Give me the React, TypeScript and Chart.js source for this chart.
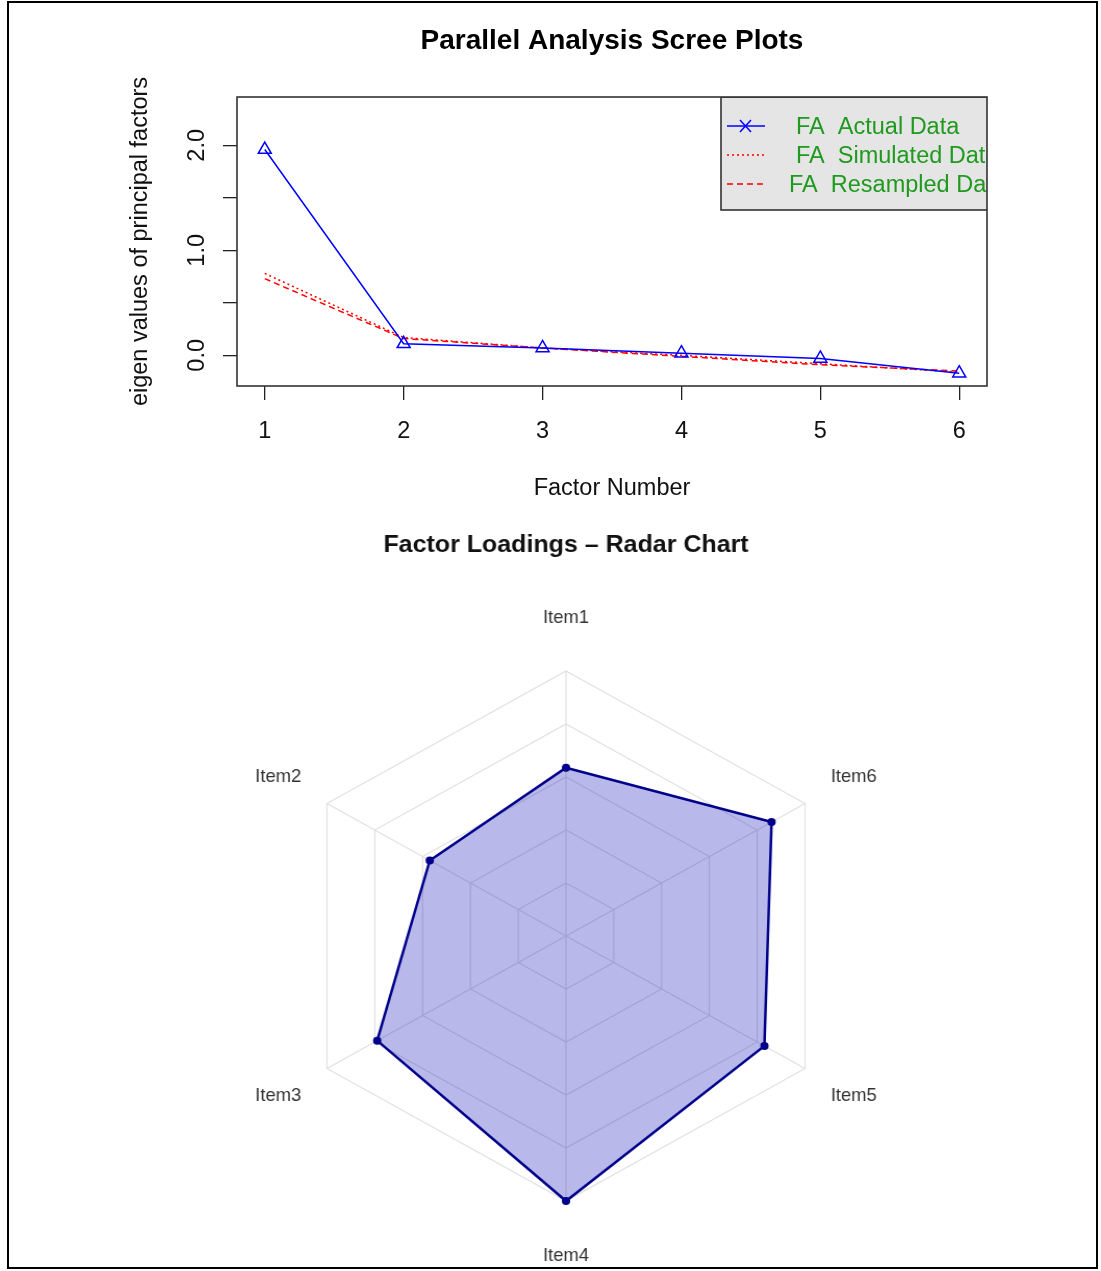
import React, { useEffect, useRef } from 'react';
import { Chart, registerables } from 'chart.js';

Chart.register(...registerables);

const FONT = '"Liberation Sans", Arial, Helvetica, sans-serif';

// ---------- Scree plot data ----------
const factorNumbers = [1, 2, 3, 4, 5, 6];
const actualData = [1.96, 0.11, 0.07, 0.02, -0.03, -0.17];
const simulatedData = [0.78, 0.17, 0.07, 0.0, -0.08, -0.16];
const resampledData = [0.73, 0.16, 0.07, -0.01, -0.09, -0.15];
const xTickValues = [1, 2, 3, 4, 5, 6];
const xTickLabels = ['1', '2', '3', '4', '5', '6'];
const yTickValues = [0, 0.5, 1, 1.5, 2];
const yTickLabels = ['0.0', '', '1.0', '', '2.0'];
const screeTitle = 'Parallel Analysis Scree Plots';
const xAxisTitle = 'Factor Number';
const yAxisTitle = 'eigen values of principal factors';
const legendLabels = ['FA  Actual Data', 'FA  Simulated Data', 'FA  Resampled Data'];

// ---------- Radar data ----------
const radarTitle = 'Factor Loadings \u2013 Radar Chart';
const radarItems = ['Item1', 'Item2', 'Item3', 'Item4', 'Item5', 'Item6'];
const radarLoadings = [0.635, 0.57, 0.79, 1.0, 0.83, 0.86];
const radarRings = [0, 0.2, 0.4, 0.6, 0.8, 1.0];
// items run counter-clockwise in the picture; Chart.js goes clockwise
const radarOrder = [0, 5, 4, 3, 2, 1];

const screeDecorPlugin = {
  id: 'screeDecor',
  afterDatasetsDraw(chart: any) {
    const { ctx, chartArea: a } = chart;
    ctx.save();
    ctx.beginPath();
    ctx.rect(a.left, a.top, a.right - a.left, a.bottom - a.top);
    ctx.clip();
    const lx = a.right - 266;
    const ly = a.top;
    ctx.fillStyle = '#e5e5e5';
    ctx.fillRect(lx, ly, 330, 113);
    ctx.strokeStyle = '#333';
    ctx.lineWidth = 1.6;
    ctx.strokeRect(lx, ly, 330, 113);
    const styles = [
      { color: '#0000ff', dash: [] as number[] },
      { color: '#ff0000', dash: [2, 3] },
      { color: '#ff0000', dash: [6, 4] },
    ];
    const textOffsets = [75, 75, 68];
    ctx.font = `23.5px ${FONT}`;
    ctx.textBaseline = 'middle';
    ctx.textAlign = 'left';
    legendLabels.forEach((label, i) => {
      const y = ly + 29 * (i + 1);
      ctx.strokeStyle = styles[i].color;
      ctx.lineWidth = 1.5;
      ctx.setLineDash(styles[i].dash);
      ctx.beginPath();
      ctx.moveTo(lx + 6, y);
      ctx.lineTo(lx + 44, y);
      ctx.stroke();
      ctx.setLineDash([]);
      if (i === 0) {
        ctx.beginPath();
        ctx.moveTo(lx + 19, y - 6);
        ctx.lineTo(lx + 30, y + 6);
        ctx.moveTo(lx + 19, y + 6);
        ctx.lineTo(lx + 30, y - 6);
        ctx.stroke();
      }
      ctx.fillStyle = '#1f9a1f';
      ctx.fillText(label, lx + textOffsets[i], y + 2);
    });
    ctx.restore();

    ctx.save();
    ctx.strokeStyle = '#333';
    ctx.lineWidth = 1.6;
    ctx.strokeRect(a.left, a.top, a.right - a.left, a.bottom - a.top);
    ctx.fillStyle = '#000';
    ctx.font = `bold 28px ${FONT}`;
    ctx.textAlign = 'center';
    ctx.textBaseline = 'middle';
    ctx.fillText(screeTitle, (a.left + a.right) / 2, 41);
    ctx.restore();
  },
};

const radarLabelPlugin = {
  id: 'radarLabels',
  afterDraw(chart: any) {
    const scale = chart.scales.r;
    const { ctx } = chart;
    ctx.save();
    ctx.font = `17.7px ${FONT}`;
    ctx.fillStyle = '#333';
    ctx.textAlign = 'center';
    ctx.textBaseline = 'middle';
    (chart.data.labels as string[]).forEach((label, i) => {
      const p = scale.getPointPosition(i, scale.drawingArea + 54);
      ctx.fillText(label, p.x, p.y + 1);
    });
    ctx.restore();
  },
};

export default function App() {
  const screeRef = useRef<HTMLCanvasElement | null>(null);
  const radarRef = useRef<HTMLCanvasElement | null>(null);

  useEffect(() => {
    const tickFont = { size: 23.5, family: FONT };
    const scree = new Chart(screeRef.current as HTMLCanvasElement, {
      type: 'line',
      data: {
        datasets: [
          {
            label: 'FA Actual Data',
            data: factorNumbers.map((x, i) => ({ x, y: actualData[i] })),
            borderColor: '#0000ff',
            borderWidth: 1.5,
            pointStyle: 'triangle',
            pointRadius: 7.5,
            pointBorderColor: '#0000ff',
            pointBackgroundColor: 'rgba(0,0,0,0)',
            pointBorderWidth: 1.5,
            fill: false,
            tension: 0,
          },
          {
            label: 'FA Simulated Data',
            data: factorNumbers.map((x, i) => ({ x, y: simulatedData[i] })),
            borderColor: '#ff0000',
            borderWidth: 1.5,
            borderDash: [2, 3],
            pointRadius: 0,
            fill: false,
            tension: 0,
          },
          {
            label: 'FA Resampled Data',
            data: factorNumbers.map((x, i) => ({ x, y: resampledData[i] })),
            borderColor: '#ff0000',
            borderWidth: 1.5,
            borderDash: [6, 4],
            pointRadius: 0,
            fill: false,
            tension: 0,
          },
        ],
      },
      options: {
        responsive: false,
        maintainAspectRatio: false,
        animation: false,
        layout: { padding: { top: 97, right: 114, bottom: 0, left: 0 } },
        plugins: { legend: { display: false }, tooltip: { enabled: false } },
        scales: {
          x: {
            type: 'linear',
            min: 0.8,
            max: 6.2,
            afterBuildTicks: (s: any) => {
              s.ticks = xTickValues.map((v) => ({ value: v }));
            },
            afterFit: (s: any) => {
              s.height = 129;
            },
            border: { display: false },
            grid: { drawOnChartArea: false, drawTicks: true, tickLength: 14, color: '#222', lineWidth: 1.3 },
            ticks: {
              font: tickFont,
              color: '#111',
              padding: 17,
              autoSkip: false,
              maxRotation: 0,
              callback: (_v: any, i: number) => xTickLabels[i],
            },
            title: { display: true, text: xAxisTitle, font: tickFont, color: '#111', padding: { top: 0, bottom: 12 } },
          },
          y: {
            type: 'linear',
            min: -0.292,
            max: 2.46,
            afterBuildTicks: (s: any) => {
              s.ticks = yTickValues.map((v) => ({ value: v }));
            },
            afterFit: (s: any) => {
              s.width = 237;
            },
            border: { display: false },
            grid: { drawOnChartArea: false, drawTicks: true, tickLength: 14, color: '#222', lineWidth: 1.3 },
            ticks: {
              font: tickFont,
              color: '#111',
              padding: 9,
              autoSkip: false,
              minRotation: 90,
              maxRotation: 90,
              crossAlign: 'center',
              callback: (_v: any, i: number) => yTickLabels[i],
            },
            title: { display: true, text: yAxisTitle, font: tickFont, color: '#111', padding: { top: 126, bottom: 0 } },
          },
        },
      } as any,
      plugins: [screeDecorPlugin],
    });

    const radar = new Chart(radarRef.current as HTMLCanvasElement, {
      type: 'radar',
      data: {
        labels: radarOrder.map((i) => radarItems[i]),
        datasets: [
          {
            label: 'Loadings',
            data: radarOrder.map((i) => radarLoadings[i]),
            borderColor: '#00008b',
            borderWidth: 2.5,
            backgroundColor: 'rgba(0,0,180,0.28)',
            pointRadius: 4,
            pointBackgroundColor: '#00008b',
            pointBorderColor: '#00008b',
            pointBorderWidth: 0,
            fill: true,
          },
        ],
      },
      options: {
        responsive: false,
        maintainAspectRatio: false,
        animation: false,
        layout: { padding: { top: 0, right: 270, bottom: 67, left: 301 } },
        plugins: {
          legend: { display: false },
          tooltip: { enabled: false },
          title: {
            display: true,
            text: radarTitle,
            color: '#111',
            font: { size: 24, weight: 'bold', family: FONT, lineHeight: 1.2 },
            padding: { top: 15.6, bottom: 111.6 },
          },
        },
        scales: {
          r: {
            min: 0,
            max: 1,
            afterBuildTicks: (s: any) => {
              s.ticks = radarRings.map((v) => ({ value: v }));
            },
            ticks: { display: false },
            grid: { color: '#e0e0e0', lineWidth: 1.2 },
            angleLines: { color: '#e0e0e0', lineWidth: 1.2 },
            pointLabels: { display: false },
          },
        },
      } as any,
      plugins: [radarLabelPlugin],
    });

    return () => {
      scree.destroy();
      radar.destroy();
    };
  }, []);

  return (
    <div style={{ position: 'absolute', left: 0, top: 0, width: 1101, height: 1271, background: '#fff', overflow: 'hidden' }}>
      <canvas ref={screeRef} width={1101} height={515} style={{ position: 'absolute', left: 0, top: 0 }} />
      <div
        style={{
          position: 'absolute',
          left: 0,
          top: 515,
          width: 1101,
          height: 753,
          transform: 'scaleX(1.0415)',
          transformOrigin: '566px 0px',
        }}
      >
        <canvas ref={radarRef} width={1101} height={753} style={{ display: 'block' }} />
      </div>
      <div
        style={{
          position: 'absolute',
          left: 7,
          top: 1,
          width: 1091,
          height: 1268,
          border: '2px solid #000',
          boxSizing: 'border-box',
          pointerEvents: 'none',
        }}
      />
    </div>
  );
}
